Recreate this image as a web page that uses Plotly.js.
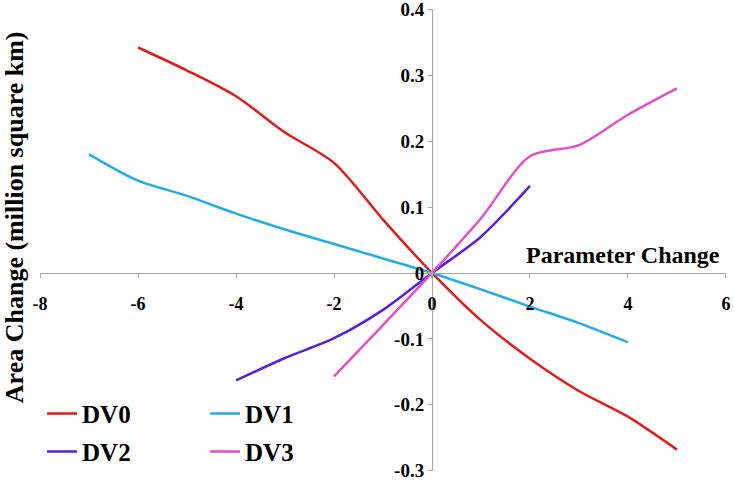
<!DOCTYPE html>
<html>
<head>
<meta charset="utf-8">
<script src="https://cdn.plot.ly/plotly-3.0.1.min.js"></script>
<style>html,body{margin:0;padding:0;background:#fff;}#chart{width:734px;height:484px;}</style>
</head>
<body>
<div id="chart"></div>
<script>
// Data
const dv0X = [-6, -5, -4, -3, -2, -1, 0, 1, 2, 3, 4, 5];
const dv0Y = [0.342, 0.307, 0.268, 0.213, 0.167, 0.081, 0, -0.072, -0.130, -0.179, -0.218, -0.268];
const dv1X = [-7, -6, -5, -4, -3, -2, -1, 0, 1, 2, 3, 4];
const dv1Y = [0.180, 0.140, 0.117, 0.090, 0.066, 0.044, 0.022, 0, -0.025, -0.051, -0.076, -0.105];
const dv2X = [-4, -3, -2, -1, 0, 1, 2];
const dv2Y = [-0.163, -0.129, -0.099, -0.056, 0, 0.055, 0.132];
const dv3X = [-2, -1, 0, 1, 2, 3, 4, 5];
const dv3Y = [-0.157, -0.079, 0, 0.083, 0.177, 0.194, 0.240, 0.280];
const seriesNames = ["DV0", "DV1", "DV2", "DV3"];
const xTickVals = [-8, -6, -4, -2, 0, 2, 4, 6];
const xTickText = ["-8", "-6", "-4", "-2", "0", "2", "4", "6"];
const yTickVals = [-0.3, -0.2, -0.1, 0, 0.1, 0.2, 0.3, 0.4];
const yTickText = ["-0.3", "-0.2", "-0.1", "0", "0.1", "0.2", "0.3", "0.4"];
const xTitle = "Parameter Change";
const yTitle = "Area Change (million square km)";

const serif = "Liberation Serif";
const colors = ["#E41B1B", "#22AEE4", "#5A1EDC", "#E64EC8"];
function f(size) { return {family: serif, size: size, weight: "bold", color: "#000"}; }

function mk(x, y, i, legend) {
  return {
    x: x, y: y, name: seriesNames[i], type: "scatter", mode: "lines",
    line: {color: colors[i], width: 2.5, shape: "spline", smoothing: 0.8},
    legend: legend
  };
}
const data = [
  mk(dv0X, dv0Y, 0, "legend"),
  mk(dv1X, dv1Y, 1, "legend"),
  mk(dv2X, dv2Y, 2, "legend2"),
  mk(dv3X, dv3Y, 3, "legend2")
];

const layout = {
  width: 734, height: 484,
  margin: {l: 40, r: 8, t: 9, b: 13},
  paper_bgcolor: "#fff", plot_bgcolor: "#fff",
  font: {family: serif, color: "#000"},
  xaxis: {
    range: [-8.002, 6.002], anchor: "free", position: 0.3 / 0.7,
    showgrid: false, zeroline: false, showline: true, linecolor: "#a6a6a6", linewidth: 1,
    ticks: "outside", ticklen: 4, tickcolor: "#a6a6a6", ticklabeloverflow: "allow",
    tickvals: xTickVals, ticktext: xTickText, ticklabelstandoff: 10,
    tickfont: f(18)
  },
  yaxis: {
    range: [-0.3004, 0.4004], anchor: "free", position: 8 / 14,
    showgrid: false, zeroline: false, showline: true, linecolor: "#a6a6a6", linewidth: 1,
    ticks: "outside", ticklen: 4, tickcolor: "#a6a6a6", ticklabeloverflow: "allow",
    tickvals: yTickVals, ticktext: yTickText,
    tickfont: f(19)
  },
  legend: {
    orientation: "h", x: 0.003, xanchor: "left", y: (471.3 - 414) / 462, yanchor: "middle",
    entrywidth: 118, font: f(25), bgcolor: "rgba(0,0,0,0)", itemwidth: 30, tracegroupgap: 0
  },
  legend2: {
    orientation: "h", x: 0.003, xanchor: "left", y: (471.3 - 452) / 462, yanchor: "middle",
    entrywidth: 118, font: f(25), bgcolor: "rgba(0,0,0,0)", itemwidth: 30, tracegroupgap: 0
  },
  showlegend: true,
  annotations: [
    {text: xTitle, xref: "paper", yref: "paper", x: 0.994, xanchor: "right",
     y: (471.3 - 255) / 462, yanchor: "middle", showarrow: false, font: f(24)},
    {text: yTitle, xref: "paper", yref: "paper", x: (14 - 40) / 686, xanchor: "center",
     y: (471.3 - 217.5) / 462, yanchor: "middle", showarrow: false, textangle: -90, font: f(26)}
  ]
};

Plotly.newPlot("chart", data, layout, {displayModeBar: false, staticPlot: true});
</script>
</body>
</html>
